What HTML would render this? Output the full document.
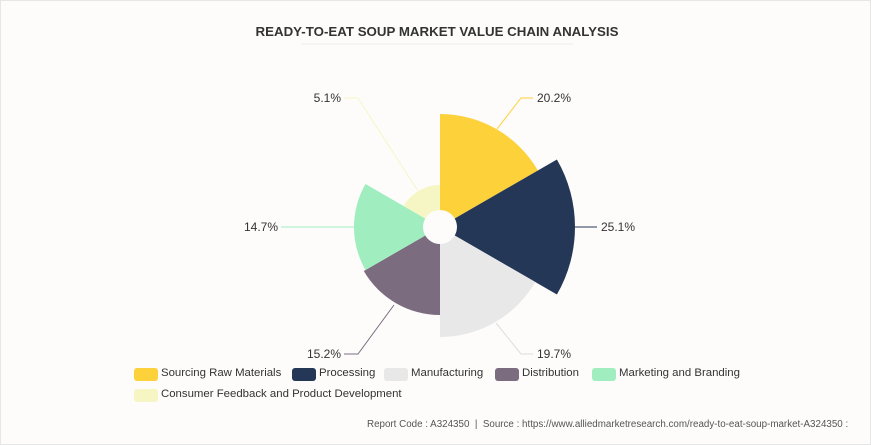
<!DOCTYPE html>
<html><head><meta charset="utf-8"><style>
body{margin:0;background:#fff;}
#w{position:relative;width:869px;height:443px;border:1px solid #e6e6e6;background:#fdfcfb;font-family:"Liberation Sans",sans-serif;overflow:hidden}
.t{position:absolute;font-size:11.4px;color:#333;white-space:nowrap}
.s{position:absolute;width:24px;height:13px;border-radius:3px}
</style></head><body><div id="w">
<svg width="869" height="443" style="position:absolute;left:0;top:0">
<text x="436" y="35" text-anchor="middle" font-family="Liberation Sans" font-weight="bold" font-size="13.3" fill="#333">READY-TO-EAT SOUP MARKET VALUE CHAIN ANALYSIS</text>
<line x1="300" y1="43" x2="572" y2="43" stroke="#ececec"/>
<path d="M439,113 A113,113 0 0 1 536.9,169.5 L453.7,217.5 A17,17 0 0 0 439,209Z" fill="#fdd13a"/>
<path d="M555.9,158.5 A135,135 0 0 1 555.9,293.5 L453.7,234.5 A17,17 0 0 0 453.7,217.5Z" fill="#243757"/>
<path d="M534.3,281 A110,110 0 0 1 439,336 L439,243 A17,17 0 0 0 453.7,234.5Z" fill="#e8e8e8"/>
<path d="M439,314 A88,88 0 0 1 362.8,270 L424.3,234.5 A17,17 0 0 0 439,243Z" fill="#7c6c80"/>
<path d="M364.5,269 A86,86 0 0 1 364.5,183 L424.3,217.5 A17,17 0 0 0 424.3,234.5Z" fill="#a0eec0"/>
<path d="M402.6,205 A42,42 0 0 1 439,184 L439,209 A17,17 0 0 0 424.3,217.5Z" fill="#f6f6c4"/>
<g fill="none" stroke-width="1">
<polyline points="496,128 520,97 532,97" stroke="#fdd13a"/>
<polyline points="574,226 596,226" stroke="#243757"/>
<polyline points="495,322 520,353 532,353" stroke="#ddd"/>
<polyline points="393,304 357,353 343,353" stroke="#7c6c80"/>
<polyline points="353,226 280,226" stroke="#a0eec0"/>
<polyline points="417,190 357,97 343,97" stroke="#f6f6c4"/>
</g>
<g font-family="Liberation Sans" font-size="12" fill="#333">
<text x="536" y="101">20.2%</text>
<text x="600" y="230">25.1%</text>
<text x="536" y="357">19.7%</text>
<text x="340" y="357" text-anchor="end">15.2%</text>
<text x="277" y="230" text-anchor="end">14.7%</text>
<text x="340" y="101" text-anchor="end">5.1%</text>
</g>
</svg>
<div class="s" style="left:133px;top:367px;background:#fdd13a"></div><div class="t" style="left:160px;top:366px">Sourcing Raw Materials</div>
<div class="s" style="left:291px;top:367px;background:#243757"></div><div class="t" style="left:318px;top:366px">Processing</div>
<div class="s" style="left:383px;top:367px;background:#e8e8e8"></div><div class="t" style="left:410px;top:366px">Manufacturing</div>
<div class="s" style="left:494px;top:367px;background:#7c6c80"></div><div class="t" style="left:521px;top:366px">Distribution</div>
<div class="s" style="left:591px;top:367px;background:#a0eec0"></div><div class="t" style="left:618px;top:366px">Marketing and Branding</div>
<div class="s" style="left:133px;top:388px;background:#f6f6c4"></div><div class="t" style="left:160px;top:387px">Consumer Feedback and Product Development</div>
<div class="t" style="left:366px;top:418px;font-size:9.8px;color:#555">Report Code : A324350 &nbsp;|&nbsp; Source : https://www.alliedmarketresearch.com/ready-to-eat-soup-market-A324350 :</div>
</div></body></html>
